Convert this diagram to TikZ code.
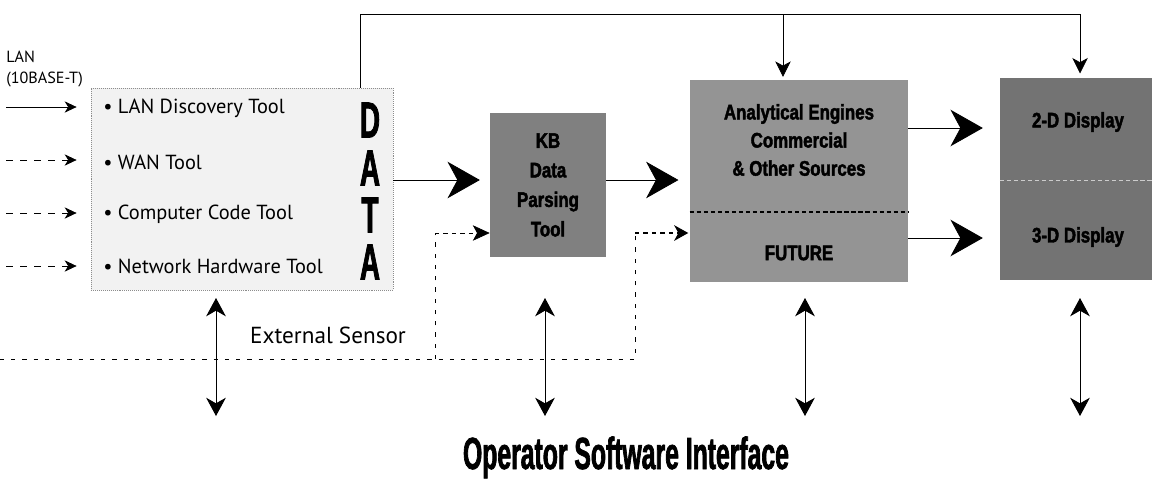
\documentclass[tikz,border=0pt]{standalone}
\usepackage{fontspec}
\setmainfont{PT Sans}
\newfontfamily\heavyfont[FakeStretch=0.55,FakeBold=1.5]{Liberation Sans}
\newfontfamily\boxfont[FakeStretch=0.8,FakeBold=2]{Liberation Sans}
\usetikzlibrary{arrows.meta}

\begin{document}
\begin{tikzpicture}[x=0.025cm,y=-0.025cm,
	toolbox/.style={draw=black!45,densely dotted,fill=black!5,inner sep=0pt,minimum width=7.55cm,minimum height=5.05cm},
	darkbox/.style={fill=#1,inner sep=0pt},
	itemtext/.style={anchor=west,inner sep=0pt,font=\fontsize{14.5}{17}\selectfont},
	datatext/.style={inner sep=0pt,font=\heavyfont\bfseries\fontsize{36}{36}\selectfont},
	labeltext/.style={inner sep=0pt,align=center,font=\boxfont\bfseries\fontsize{15}{20}\selectfont},
	bigarrow/.style={line width=0.6pt,-{Stealth[length=23pt,width=26pt,inset=7pt]}},
	inarrow/.style={line width=0.5pt,-{Stealth[length=8.5pt,width=8pt,inset=2.5pt]}},
	feedarrow/.style={line width=0.5pt,-{Stealth[length=11pt,width=11pt,inset=3pt]}},
	dblarrow/.style={line width=0.7pt,{Stealth[length=13pt,width=14pt,inset=4pt]}-{Stealth[length=13pt,width=14pt,inset=4pt]}},
	sensorline/.style={line width=0.5pt,dash pattern=on 3pt off 5pt}]
	\useasboundingbox (0,0) rectangle (1152,483);
	% boxes
	\node[toolbox] (tools) at (242,189) {};
	\node[darkbox=black!50,minimum width=2.9cm,minimum height=3.6cm,labeltext,font=\boxfont\bfseries\fontsize{15}{21}\selectfont] (kb) at (548,185) {KB\\Data\\Parsing\\Tool};
	\node[darkbox=black!42,minimum width=5.45cm,minimum height=5.05cm] (engine) at (799,181) {};
	\node[darkbox=black!55,minimum width=3.8cm,minimum height=5.05cm] (display) at (1076,179) {};
	\draw[densely dashed,line width=0.8pt] (engine.west |- 0,212) -- (engine.east |- 0,212);
	\draw[densely dashed,black!20,line width=0.6pt] (display.west |- 0,180) -- (display.east |- 0,180);
	\node[labeltext] (engineText) at (799,140) {Analytical Engines\\Commercial\\\& Other Sources};
	\node[labeltext] (futureText) at (799,253) {FUTURE};
	\node[labeltext] (twoD) at (1078,122) {2-D Display};
	\node[labeltext] (threeD) at (1078,237) {3-D Display};
	% inputs
	\node[anchor=west,align=left,inner sep=0pt,font=\fontsize{11.5}{15.5}\selectfont] (lan) at (6,69) {LAN\\(10BASE-T)};
	\node[itemtext] (lanTool) at (103,108) {\textbullet\ LAN Discovery Tool};
	\node[itemtext] (wanTool) at (103,162) {\textbullet\ WAN Tool};
	\node[itemtext] (codeTool) at (103,214) {\textbullet\ Computer Code Tool};
	\node[itemtext] (hwTool) at (103,266) {\textbullet\ Network Hardware Tool};
	\coordinate (in1) at (6,107);
	\coordinate (in2) at (6,160);
	\coordinate (in3) at (6,213);
	\coordinate (in4) at (6,266);
	\draw[inarrow,shorten >=10pt] (in1) -- (in1 -| tools.west);
	\draw[inarrow,shorten >=10pt,dash pattern=on 5pt off 5pt] (in2) -- (in2 -| tools.west);
	\draw[inarrow,shorten >=10pt,dash pattern=on 5pt off 5pt] (in3) -- (in3 -| tools.west);
	\draw[inarrow,shorten >=10pt,dash pattern=on 5pt off 5pt] (in4) -- (in4 -| tools.west);
	\node[datatext] (d1) at (370,120) {D};
	\node[datatext] (d2) at (370,168) {A};
	\node[datatext] (d3) at (370,215) {T};
	\node[datatext] (d4) at (370,262) {A};
	% main flow
	\coordinate (mid) at (0,180);
	\draw[bigarrow,shorten >=7pt] (tools.east |- mid) -- (kb.west |- mid);
	\draw[bigarrow,shorten >=8pt] (kb.east |- mid) -- (engine.west |- mid);
	\coordinate (up) at (0,128);
	\coordinate (down) at (0,238);
	\draw[bigarrow,shorten >=12pt] (engine.east |- up) -- (display.west |- up);
	\draw[bigarrow,shorten >=12pt] (engine.east |- down) -- (display.west |- down);
	% feed over the top
	\coordinate (t0) at (360,14);
	\coordinate (t1) at (1080,14);
	\coordinate (e0) at (783,14);
	\draw[line width=0.5pt] (tools.north -| t0) -- (t0) -- (t1);
	\draw[feedarrow,shorten >=2pt] (e0) -- (engine.north -| e0);
	\draw[feedarrow,shorten >=3pt] (t1) -- (display.north -| t1);
	% external sensor
	\node[inner sep=0pt,font=\fontsize{16.5}{18}\selectfont] (sensor) at (328,335) {External Sensor};
	\coordinate (s0) at (0,359);
	\coordinate (s1) at (435,359);
	\coordinate (s2) at (635,359);
	\coordinate (k0) at (435,233);
	\coordinate (f0) at (635,233);
	\draw[sensorline] (s0) -- (s2) -- (f0);
	\draw[sensorline] (s1) -- (k0);
	\draw[line width=0.5pt,dash pattern=on 3pt off 3pt,-{Stealth[length=12pt,width=11pt,inset=3pt]}] (k0) -- (kb.west |- k0);
	\draw[line width=1.8pt,dash pattern=on 3pt off 3pt,-{Stealth[length=10pt,width=11pt,inset=3pt]},shorten >=1pt] (f0) -- (engine.west |- f0);
	% operator interface
	\foreach \x/\n in {216/a,545/b,805/c,1080/d}{
		\coordinate (top\n) at (\x,298);
		\coordinate (bot\n) at (\x,416);
		\draw[dblarrow] (top\n) -- (bot\n);
	}
	\node[anchor=base,inner sep=0pt,font=\heavyfont\bfseries\fontsize{32}{32}\selectfont] (osi) at (626,469) {Operator Software Interface};
\end{tikzpicture}
\end{document}
